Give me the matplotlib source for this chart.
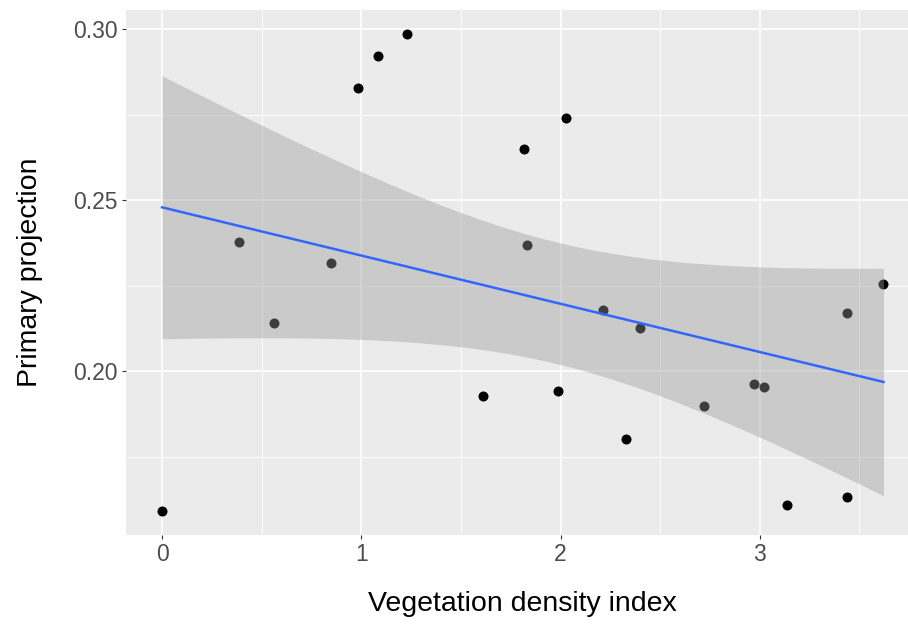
import numpy as np
import matplotlib.pyplot as plt

plt.rcParams['font.family'] = ['Liberation Sans', 'DejaVu Sans']

# data
veg_index = [0.0, 0.386, 0.560, 0.849, 0.981, 1.083, 1.228, 1.612, 1.816, 1.830, 1.988,
             2.027, 2.214, 2.331, 2.401, 2.722, 2.969, 3.019, 3.136, 3.440, 3.440, 3.621]
primary_proj = [0.1591, 0.2378, 0.2141, 0.2318, 0.2830, 0.2923, 0.2987, 0.1929, 0.2649, 0.2369, 0.1943,
                0.2742, 0.2180, 0.1803, 0.2128, 0.1899, 0.1963, 0.1954, 0.1608, 0.2171, 0.1633, 0.2255]

x = np.array(veg_index)
y = np.array(primary_proj)

# linear fit with 95% confidence band, like geom_smooth(method="lm")
n = len(x)
b1, b0 = np.polyfit(x, y, 1)
resid = y - (b0 + b1 * x)
s = np.sqrt(np.sum(resid ** 2) / (n - 2))
xs = np.linspace(x.min(), x.max(), 80)
fit = b0 + b1 * xs
se = s * np.sqrt(1 / n + (xs - x.mean()) ** 2 / np.sum((x - x.mean()) ** 2))
tval = 2.086  # t(0.975, df=20)

fig = plt.figure(figsize=(9.08, 6.33), dpi=100)
ax = fig.add_axes([0.1388, 0.1548, 0.8739, 0.8294])
ax.set_facecolor('#EBEBEB')

ax.scatter(x, y, s=52, color='black', zorder=3, linewidths=0)
ax.fill_between(xs, fit - tval * se, fit + tval * se, color='#999999', alpha=0.4, linewidth=0, zorder=4)
ax.plot(xs, fit, color='#3366FF', lw=1.8, zorder=5)

ax.set_xlim(-0.181, 3.802)
ax.set_ylim(0.1521, 0.3057)
ax.set_xticks([0, 1, 2, 3])
ax.set_xticks([0.5, 1.5, 2.5, 3.5], minor=True)
ax.set_yticks([0.20, 0.25, 0.30])
ax.set_yticklabels(['0.20', '0.25', '0.30'])
ax.set_yticks([0.175, 0.225, 0.275], minor=True)

ax.grid(which='major', color='white', lw=1.2, zorder=0)
ax.grid(which='minor', color='white', lw=0.6, zorder=0)
ax.set_axisbelow(True)
for sp in ax.spines.values():
    sp.set_visible(False)

ax.tick_params(which='major', length=3, width=0.8, color='#333333', labelsize=16.5,
               labelcolor='#4D4D4D', pad=3)
ax.tick_params(which='minor', length=0)

ax.set_xlabel('Vegetation density index', fontsize=20.5, labelpad=18)
ax.set_ylabel('Primary projection', fontsize=20.5, labelpad=22)

fig.savefig('out.png', dpi=100)
